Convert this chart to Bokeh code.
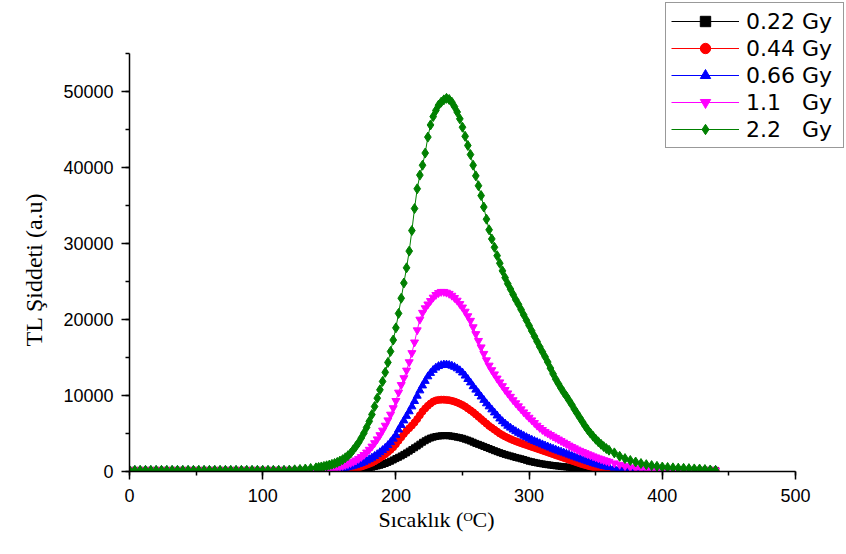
import math
from bokeh.plotting import figure
from bokeh.models import Range1d, SingleIntervalTicker, Title
from bokeh.embed import file_html
from bokeh.resources import INLINE

# ---------------- data ----------------
TEMP_LOW = [0, 4, 8, 12, 16, 20, 24, 28, 32, 36, 40, 44, 48, 52, 56, 60, 64, 68,
            72, 76, 80, 84, 88, 92, 96, 100, 104, 108, 112, 116, 120, 124, 128, 132, 136, 140]
TEMP_MID = [142, 144, 146, 148, 150, 152, 154, 156, 158, 160,
            162, 164, 166, 168, 170, 172, 174, 176, 178, 180,
            182, 184, 186, 188, 190, 192, 194, 196, 198, 200,
            202, 204, 206, 208, 210, 212, 214, 216, 218, 220,
            222, 224, 226, 228, 230, 232, 234, 236, 238, 240,
            242, 244, 246, 248, 250, 252, 254, 256, 258, 260,
            262, 264, 266, 268, 270, 272, 274, 276, 278, 280,
            282, 284, 286, 288, 290, 292, 294, 296, 298, 300,
            302, 304, 306, 308, 310, 312, 314, 316, 318, 320,
            322, 324, 326, 328, 330, 332, 334, 336, 338, 340,
            342, 344, 346, 348, 350, 352, 354, 356, 358, 360]
TEMP_TAIL = [364, 368, 372, 376, 380, 384, 388, 392, 396, 400,
             404, 408, 412, 416, 420, 424, 428, 432, 436, 440]
TEMPERATURE = TEMP_LOW + TEMP_MID + TEMP_TAIL

BASE_LOW = [150, 150, 150, 150, 150, 150, 150, 150, 150, 150, 150, 150,
            150, 150, 150, 150, 150, 150, 150, 150, 150, 150, 150, 150,
            150, 150, 150, 150, 150, 150, 150, 150, 150, 150, 150, 150]
BASE_TAIL = [150, 150, 150, 150, 150, 150, 150, 150, 150, 150,
             150, 150, 150, 150, 150, 150, 150, 150, 150, 150]

DOSE_022 = BASE_LOW + [
    150, 150, 155, 155, 160, 160, 165, 170, 180, 190,
    205, 220, 240, 260, 290, 320, 360, 400, 450, 500,
    570, 650, 730, 820, 930, 1050, 1200, 1350, 1520, 1700,
    1870, 2050, 2250, 2450, 2680, 2900, 3120, 3350, 3600, 3850,
    4050, 4250, 4400, 4520, 4600, 4660, 4700, 4720, 4720, 4700,
    4650, 4590, 4520, 4450, 4370, 4250, 4130, 4000, 3850, 3700,
    3570, 3440, 3300, 3160, 3020, 2880, 2740, 2610, 2480, 2360,
    2250, 2150, 2050, 1950, 1850, 1760, 1670, 1580, 1470, 1360,
    1280, 1200, 1130, 1060, 1000, 940, 890, 840, 790, 750,
    710, 670, 630, 600, 560, 520, 490, 460, 430, 400,
    370, 340, 310, 280, 255, 230, 210, 190, 175, 160] + BASE_TAIL

DOSE_044 = BASE_LOW + [
    150, 155, 160, 165, 170, 180, 190, 200, 215, 230,
    250, 290, 340, 400, 470, 550, 640, 760, 880, 1010,
    1150, 1350, 1550, 1780, 2020, 2270, 2550, 2850, 3200, 3600,
    4050, 4500, 4950, 5350, 5700, 6050, 6450, 6900, 7400, 7900,
    8300, 8650, 8950, 9200, 9350, 9420, 9450, 9450, 9420, 9380,
    9300, 9200, 9070, 8920, 8750, 8550, 8300, 8050, 7800, 7500,
    7200, 6900, 6600, 6300, 6000, 5750, 5500, 5250, 5000, 4800,
    4600, 4430, 4270, 4120, 3980, 3850, 3720, 3600, 3480, 3360,
    3240, 3120, 3000, 2880, 2760, 2640, 2520, 2400, 2280, 2150,
    2030, 1910, 1790, 1670, 1550, 1430, 1310, 1190, 1070, 960,
    860, 760, 670, 590, 510, 440, 380, 320, 270, 220] + [
    180, 160, 150, 150, 150, 150, 150, 150, 150, 150,
    150, 150, 150, 150, 150, 150, 150, 150, 150, 150]

DOSE_066 = BASE_LOW + [
    150, 160, 170, 185, 200, 220, 250, 290, 340, 400,
    470, 550, 640, 740, 850, 970, 1100, 1250, 1420, 1600,
    1800, 2020, 2260, 2520, 2800, 3100, 3450, 3850, 4300, 4800,
    5500, 6100, 6700, 7300, 7900, 8550, 9250, 9950, 10650, 11300,
    11900, 12500, 12950, 13350, 13650, 13850, 13980, 14050, 14050, 14000,
    13900, 13750, 13550, 13300, 13000, 12600, 12150, 11700, 11200, 10750,
    10300, 9850, 9400, 8950, 8550, 8150, 7750, 7350, 6950, 6600,
    6300, 6000, 5750, 5500, 5280, 5070, 4870, 4680, 4500, 4330,
    4160, 4000, 3850, 3700, 3550, 3400, 3260, 3120, 2980, 2850,
    2720, 2590, 2460, 2330, 2200, 2070, 1940, 1810, 1690, 1570,
    1450, 1330, 1220, 1110, 1000, 900, 800, 710, 630, 560] + [
    460, 360, 280, 220, 180, 160, 150, 150, 150, 150,
    150, 150, 150, 150, 150, 150, 150, 150, 150, 150]

DOSE_11 = BASE_LOW + [
    200, 230, 260, 300, 350, 400, 470, 550, 640, 740,
    860, 990, 1130, 1290, 1470, 1680, 1920, 2200, 2520, 2880,
    3300, 3750, 4250, 4800, 5400, 6050, 6750, 7500, 8350, 9300,
    10400, 11400, 12300, 13300, 14400, 15600, 17000, 18600, 20000, 20900,
    21500, 22000, 22450, 22900, 23250, 23500, 23650, 23650, 23550, 23400,
    23150, 22850, 22500, 22050, 21600, 21050, 20450, 19850, 19000, 18100,
    17200, 16350, 15500, 14650, 13950, 13350, 12800, 12250, 11750, 11250,
    10750, 10300, 9850, 9400, 9000, 8600, 8200, 7800, 7450, 7100,
    6750, 6400, 6050, 5750, 5480, 5230, 5020, 4820, 4620, 4430,
    4230, 4030, 3830, 3630, 3430, 3250, 3070, 2900, 2740, 2590,
    2440, 2290, 2150, 2010, 1880, 1750, 1630, 1510, 1400, 1290] + [
    1090, 900, 720, 560, 430, 320, 240, 190, 160, 150,
    150, 150, 150, 150, 150, 150, 150, 150, 150, 150]

DOSE_22 = [150, 150, 150, 150, 150, 150, 150, 150, 150, 150, 150, 150,
           150, 150, 150, 150, 150, 150, 150, 150, 150, 150, 150, 150,
           150, 150, 150, 150, 150, 150, 180, 220, 270, 330, 400, 480] + [
    540, 600, 670, 750, 840, 940, 1060, 1200, 1370, 1560,
    1800, 2080, 2400, 2850, 3300, 3800, 4400, 5050, 5800, 6600,
    7500, 8550, 9650, 10750, 11850, 13050, 14350, 15800, 17300, 18900,
    20800, 22800, 24800, 26800, 29000, 31700, 34600, 37200, 39000, 40300,
    41900, 44000, 45600, 46700, 47500, 48200, 48600, 48900, 49100, 48950,
    48600, 48000, 47300, 46400, 45300, 44100, 42900, 41700, 40300, 38900,
    37600, 36300, 34800, 33200, 31800, 30600, 29500, 28400, 27400, 26400,
    25500, 24700, 24000, 23300, 22600, 22000, 21300, 20600, 19900, 19200,
    18500, 17800, 17100, 16400, 15750, 15100, 14400, 13600, 12850, 12150,
    11550, 10950, 10400, 9900, 9350, 8800, 8200, 7650, 7100, 6550,
    6000, 5500, 5050, 4650, 4250, 3900, 3580, 3280, 3020, 2800] + [
    2450, 2000, 1700, 1450, 1250, 1050, 900, 780, 680, 590,
    530, 480, 440, 420, 380, 340, 320, 260, 200, 150]

SERIES_LABELS = ["0.22 Gy", "0.44 Gy", "0.66 Gy", "1.1\u00a0\u00a0\u00a0Gy", "2.2\u00a0\u00a0\u00a0Gy"]
SERIES_VALUES = [DOSE_022, DOSE_044, DOSE_066, DOSE_11, DOSE_22]

X_TITLE = "Sıcaklık (\u1D3CC)"
Y_TITLE = "TL Şiddeti (a.u)"

# ---------------- styling ----------------
COLORS = ["#000000", "#FF0000", "#0000FF", "#FF00FF", "#008000"]
MARKERS = ["square", "circle", "triangle", "inverted_triangle", "diamond"]
SIZES = [6, 7, 8, 8, 10]

for v in SERIES_VALUES:
    assert len(v) == len(TEMPERATURE), (len(v), len(TEMPERATURE))

p = figure(width=846, height=554, output_backend="svg", toolbar_location=None,
           x_range=Range1d(0, 538.3), y_range=Range1d(0, 61974),
           min_border_left=129, min_border_right=0, min_border_top=0, min_border_bottom=83)
p.outline_line_color = None
p.xgrid.visible = False
p.ygrid.visible = False
p.background_fill_color = "white"

p.xaxis.ticker = SingleIntervalTicker(interval=100, num_minor_ticks=2)
p.yaxis.ticker = SingleIntervalTicker(interval=10000, num_minor_ticks=2)
p.xaxis.bounds = (0, 500)
p.yaxis.bounds = (0, 55000)
for ax in (p.xaxis[0], p.yaxis[0]):
    ax.axis_line_color = "black"
    ax.axis_line_width = 1.5
    ax.major_tick_line_color = "black"
    ax.major_tick_line_width = 1.5
    ax.minor_tick_line_color = "black"
    ax.minor_tick_line_width = 1.5
    ax.major_tick_in = 0
    ax.major_tick_out = 8
    ax.minor_tick_in = 0
    ax.minor_tick_out = 4
    ax.major_label_text_font = "Liberation Sans"
    ax.major_label_text_font_size = "18px"
    ax.major_label_text_color = "black"
p.xaxis.major_label_standoff = 9
p.yaxis.major_label_standoff = 8

for vals, lab, col, mk, sz in zip(SERIES_VALUES, SERIES_LABELS, COLORS, MARKERS, SIZES):
    p.line(TEMPERATURE, vals, line_color=col, line_width=1, legend_label=lab)
    p.scatter(TEMPERATURE, vals, marker=mk, size=sz,
              fill_color=col, line_color=col, legend_label=lab)

lg = p.legend[0]
lg.location = "top_right"
lg.margin = 2
lg.padding = 5
lg.spacing = 1
lg.glyph_width = 68
lg.glyph_height = 26
lg.label_height = 26
lg.label_width = 92
lg.label_standoff = 7
lg.label_text_font = "DejaVu Sans"
lg.label_text_font_size = "22px"
lg.label_text_color = "black"
lg.border_line_color = "#333333"
lg.border_line_width = 1
lg.background_fill_color = "white"
lg.background_fill_alpha = 1.0

# axis titles
p.add_layout(Title(text=Y_TITLE, align="left", offset=125, standoff=28,
                   text_font="Liberation Serif", text_font_size="24px",
                   text_font_style="normal", text_color="black"), "left")
p.add_layout(Title(text=X_TITLE, align="left", offset=249, standoff=0,
                   text_font="Liberation Serif", text_font_size="22px",
                   text_font_style="normal", text_color="black"), "below")

open("out.html", "w").write(file_html(p, INLINE))
